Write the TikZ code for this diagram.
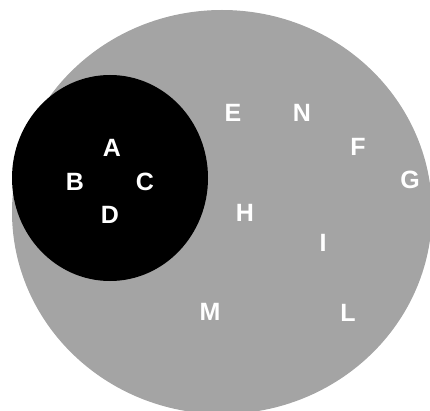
\documentclass[tikz,border=0pt]{standalone}
\usepackage{fontspec}
\setsansfont{Liberation Sans}
\usepackage{tikz}

\definecolor{setgrey}{RGB}{164,164,164}

\begin{document}
\begin{tikzpicture}[x=1pt,y=-1pt,
  setset/.style={fill=setgrey,draw=none},
  subset/.style={fill=black,draw=none},
  lbl/.style={text=white,font=\sffamily\bfseries\fontsize{25}{25}\selectfont,inner sep=0pt}]
\useasboundingbox (0,0) rectangle (430,411);
\clip (0,0) rectangle (430,411);
\fill[setset] (222,212) ellipse [x radius=210,y radius=202];
\fill[subset] (110,178) ellipse [x radius=98,y radius=103];
\foreach \x/\y/\l in %
{112/148/A,75/182/B,145/182/C,110/215/D} {
   \node[lbl] (\l) at (\x,\y) {\l};
}
\foreach \x/\y/\l in %
{233/113/E,302/113/N,358/147/F,410/180/G,245/213/H,323/243/I,210/312/M,348/313/L} {
   \node[lbl] (\l) at (\x,\y) {\l};
}
\end{tikzpicture}
\end{document}
